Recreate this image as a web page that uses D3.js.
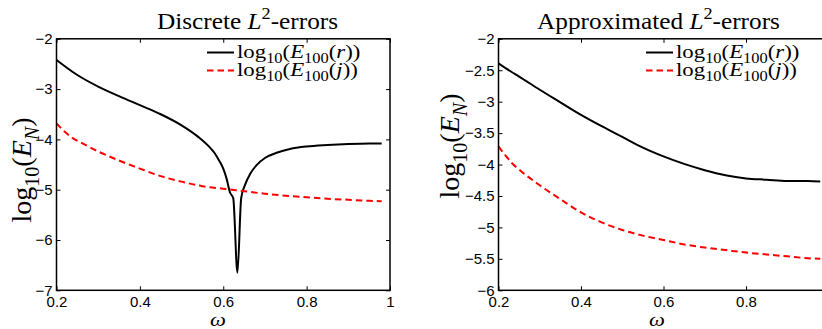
<!DOCTYPE html>
<html>
<head>
<meta charset="utf-8">
<script src="https://cdn.jsdelivr.net/npm/d3@7"></script>
<style>
  body { margin: 0; background: #fff; }
  text { white-space: pre; }
</style>
</head>
<body>
<script>
// values (omega, log10 of the error)
const omegaDiscR = [0.20, 0.25, 0.30, 0.35, 0.40, 0.45, 0.50, 0.54, 0.57, 0.58, 0.59, 0.60, 0.608, 0.616, 0.624,
  0.634, 0.643, 0.652, 0.665, 0.68, 0.70, 0.73, 0.76, 0.80, 0.85, 0.90, 0.95, 0.98];
const logErrDiscR = [-2.42, -2.72, -2.95, -3.14, -3.32, -3.50, -3.72, -3.95, -4.18, -4.28, -4.42, -4.58, -4.78, -5.05, -5.17,
  -6.65, -5.17, -4.91, -4.68, -4.51, -4.37, -4.26, -4.19, -4.14, -4.11, -4.09, -4.08, -4.08];

const omegaDiscJ = [0.20, 0.22, 0.24, 0.26, 0.30, 0.35, 0.40, 0.45, 0.50, 0.55, 0.60, 0.65, 0.70, 0.75, 0.80, 0.85, 0.90, 0.95, 0.98];
const logErrDiscJ = [-3.68, -3.85, -3.98, -4.07, -4.24, -4.42, -4.58, -4.73, -4.84, -4.93, -4.98, -5.03, -5.08, -5.12, -5.15, -5.18, -5.20, -5.22, -5.23];

const omegaApproxR = [0.20, 0.23, 0.25, 0.30, 0.35, 0.40, 0.45, 0.50, 0.55, 0.60, 0.65, 0.70, 0.75, 0.80, 0.85, 0.90, 0.95, 0.98];
const logErrApproxR = [-2.39, -2.52, -2.60, -2.81, -3.01, -3.21, -3.39, -3.56, -3.73, -3.87, -3.99, -4.09, -4.17, -4.22, -4.24, -4.26, -4.26, -4.27];

const omegaApproxJ = [0.20, 0.21, 0.22, 0.23, 0.25, 0.30, 0.35, 0.40, 0.45, 0.50, 0.55, 0.60, 0.65, 0.70, 0.75, 0.80, 0.85, 0.90, 0.95, 0.98];
const logErrApproxJ = [-3.71, -3.80, -3.88, -3.96, -4.08, -4.33, -4.55, -4.76, -4.92, -5.04, -5.13, -5.20, -5.27, -5.32, -5.36, -5.40, -5.43, -5.46, -5.49, -5.50];

const xTicks = [0.2, 0.4, 0.6, 0.8, 1];
const yTicksDisc = [-7, -6, -5, -4, -3, -2];
const yTicksApprox = [-6, -5.5, -5, -4.5, -4, -3.5, -3, -2.5, -2];
const titleWords = ["Discrete ", "Approximated "];
const legendArgs = ["r", "j"];

const serif = "'Liberation Serif', 'Times New Roman', serif";
const sans = "'Liberation Sans', Arial, sans-serif";

const svg = d3.select("body").append("svg")
  .attr("width", 822)
  .attr("height", 329);

// write TeX-like text: parts are [string, flags], flags: i italic, _ sub, ^ sup
function texText(parent, x, y, parts, size, anchor, rotate, scaleX) {
  const g = parent.append("g")
    .attr("transform", "translate(" + x + "," + y + ")" + (rotate ? " rotate(-90)" : "") + " scale(" + scaleX + ",1)");
  const t = g.append("text")
    .attr("font-family", serif)
    .attr("font-size", size)
    .attr("text-anchor", anchor)
    .attr("fill", "#000");
  let shift = 0;
  parts.forEach(p => {
    const sub = p[1].includes("_"), sup = p[1].includes("^");
    const target = sub ? size * 0.28 : sup ? -size * 0.42 : 0;
    const ts = t.append("tspan")
      .text(p[0])
      .attr("dy", target - shift)
      .attr("font-size", sub || sup ? size * 0.72 : size);
    if (p[1].includes("i")) ts.attr("font-style", "italic");
    shift = target;
  });
  return t;
}

const panels = [
  {
    left: 56.5, right: 390, top: 38.8, bottom: 290.3, xMax: 1,
    yDomain: [-7, -2], yTicks: yTicksDisc,
    series: [[omegaDiscR, logErrDiscR], [omegaDiscJ, logErrDiscJ]],
    title: titleWords[0], titleX: 247.5,
    yLabelX: 31, yLabelY: 170,
    legendX: 207, xLabelX: 218
  },
  {
    left: 498.5, right: 828.5, top: 38.8, bottom: 290.3, xMax: 0.98,
    yDomain: [-6, -2], yTicks: yTicksApprox,
    series: [[omegaApproxR, logErrApproxR], [omegaApproxJ, logErrApproxJ]],
    title: titleWords[1], titleX: 658.5,
    yLabelX: 459, yLabelY: 146,
    legendX: 646, xLabelX: 657
  }
];

const fmt = d3.format("~g");
const lineColors = ["#000", "#ff0000"];
const lineDash = [null, "6.5,4"];

panels.forEach(p => {
  const x = d3.scaleLinear().domain([0.2, 1]).range([p.left, p.right]);
  const y = d3.scaleLinear().domain(p.yDomain).range([p.bottom, p.top]);
  const shownX = xTicks.filter(d => d <= p.xMax);

  const ax = svg.append("g").attr("font-family", sans);

  // bottom axis with labels, inward ticks
  const gb = ax.append("g")
    .attr("transform", "translate(0," + p.bottom + ")")
    .call(d3.axisBottom(x).tickValues(shownX).tickFormat(fmt).tickSizeInner(-4).tickSizeOuter(0).tickPadding(6));
  // left axis
  const gl = ax.append("g")
    .attr("transform", "translate(" + p.left + ",0)")
    .call(d3.axisLeft(y).tickValues(p.yTicks).tickFormat(fmt).tickSizeInner(-4).tickSizeOuter(0).tickPadding(4));
  // mirrored ticks on top and right
  const gt = ax.append("g")
    .attr("transform", "translate(0," + p.top + ")")
    .call(d3.axisTop(x).tickValues(shownX).tickFormat("").tickSizeInner(-4).tickSizeOuter(0));
  const gr = ax.append("g")
    .attr("transform", "translate(" + p.right + ",0)")
    .call(d3.axisRight(y).tickValues(p.yTicks).tickFormat("").tickSizeInner(-4).tickSizeOuter(0));

  [gb, gl, gt, gr].forEach(g => {
    g.select(".domain").remove();
    g.selectAll(".tick line").attr("stroke", "#000").attr("stroke-width", 1);
    g.selectAll(".tick text").attr("font-size", 15).attr("fill", "#000").attr("font-family", sans);
  });

  // data lines
  const line = d3.line()
    .x(d => x(d[0]))
    .y(d => y(d[1]))
    .curve(d3.curveMonotoneX);
  p.series.forEach((s, si) => {
    const pts = s[0].map((w, k) => [w, s[1][k]]);
    svg.append("path")
      .datum(pts)
      .attr("fill", "none")
      .attr("stroke", lineColors[si])
      .attr("stroke-width", 2)
      .attr("stroke-dasharray", lineDash[si])
      .attr("d", line);
  });

  // axes box
  svg.append("rect")
    .attr("x", p.left)
    .attr("y", p.top)
    .attr("width", p.right - p.left)
    .attr("height", p.bottom - p.top)
    .attr("fill", "none")
    .attr("stroke", "#000")
    .attr("stroke-width", 1.5);

  // title
  texText(svg, p.titleX, 29, [[p.title, ""], ["L", "i"], ["2", "^"], ["-errors", ""]], 23, "middle", false, 1.1);

  // axis labels
  texText(svg, p.xLabelX, 326, [["ω", "i"]], 18, "middle", false, 1.25);
  texText(svg, p.yLabelX, p.yLabelY,
    [["log", ""], ["10", "_"], ["(", ""], ["E", "i"], ["N", "i_"], [")", ""]], 28, "middle", true, 1);

  // legend
  const rows = [52.5, 70.5];
  legendArgs.forEach((a, li) => {
    svg.append("line")
      .attr("x1", p.legendX).attr("x2", p.legendX + 27)
      .attr("y1", rows[li]).attr("y2", rows[li])
      .attr("stroke", lineColors[li])
      .attr("stroke-width", 2)
      .attr("stroke-dasharray", lineDash[li]);
    texText(svg, p.legendX + 30, rows[li] + 5,
      [["log", ""], ["10", "_"], ["(", ""], ["E", "i"], ["100", "_"], ["(", ""], [a, "i"], ["))", ""]], 19.5, "start", false, 1.17);
  });
});
</script>
</body>
</html>
